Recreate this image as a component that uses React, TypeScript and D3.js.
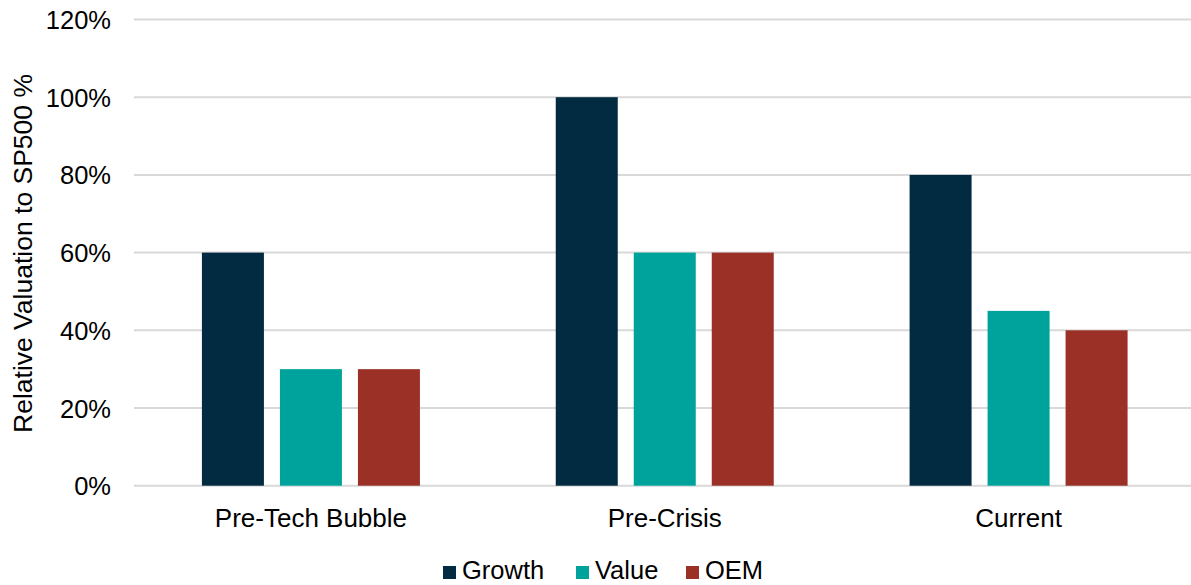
import React from "react";
import * as d3 from "d3";

const categories = ["Pre-Tech Bubble", "Pre-Crisis", "Current"];
const seriesNames = ["Growth", "Value", "OEM"];
const growth = [0.6, 1.0, 0.8];
const value = [0.3, 0.6, 0.45];
const oem = [0.3, 0.6, 0.4];
const yTicks = [0, 0.2, 0.4, 0.6, 0.8, 1.0, 1.2];
const colors = ["#022B42", "#00A39B", "#9B3026"];

const W = 1191;
const H = 585;
const FONT = "'Liberation Sans', Arial, sans-serif";

export default function App() {
  const series = [growth, value, oem];
  const x0 = d3.scaleBand().domain(categories).range([134, 1195.5]).paddingInner(0).paddingOuter(0);
  const y = d3.scaleLinear().domain([0, 1.2]).range([485.7, 19.5]);
  const groupW = 218;
  const x1 = d3.scaleBand().domain(seriesNames).range([0, groupW]).paddingInner(16 / 78).paddingOuter(0);
  const fmt = d3.format(".0%");

  const legendX = [443, 576, 686];

  return (
    <svg width={W} height={H} style={{ position: "absolute", left: 0, top: 0, background: "#fff" }} fontFamily={FONT}>
      {yTicks.map((t) => (
        <g key={t}>
          <line x1={134} x2={W} y1={y(t)} y2={y(t)} stroke="#d9d9d9" strokeWidth={2} />
          <text x={111} y={y(t) + 9.5} textAnchor="end" fontSize={25.5} fill="#000">
            {fmt(t)}
          </text>
        </g>
      ))}
      {categories.map((c, i) => {
        const cx = (x0(c) as number) + x0.bandwidth() / 2;
        const gx = cx - groupW / 2;
        return (
          <g key={c}>
            {series.map((s, j) => (
              <rect
                key={j}
                x={gx + (x1(seriesNames[j]) as number)}
                y={y(s[i])}
                width={x1.bandwidth()}
                height={y(0) - y(s[i])}
                fill={colors[j]}
              />
            ))}
            <text x={cx} y={526.5} textAnchor="middle" fontSize={26} fill="#000">
              {c}
            </text>
          </g>
        );
      })}
      <text
        transform={`translate(32,253.5) rotate(-90)`}
        textAnchor="middle"
        fontSize={26.5}
        fill="#000"
      >
        Relative Valuation to SP500 %
      </text>
      {seriesNames.map((n, j) => (
        <g key={n}>
          <rect x={legendX[j]} y={566} width={13} height={13} fill={colors[j]} />
          <text x={legendX[j] + 19} y={579} fontSize={25.5} fill="#000">
            {n}
          </text>
        </g>
      ))}
    </svg>
  );
}
